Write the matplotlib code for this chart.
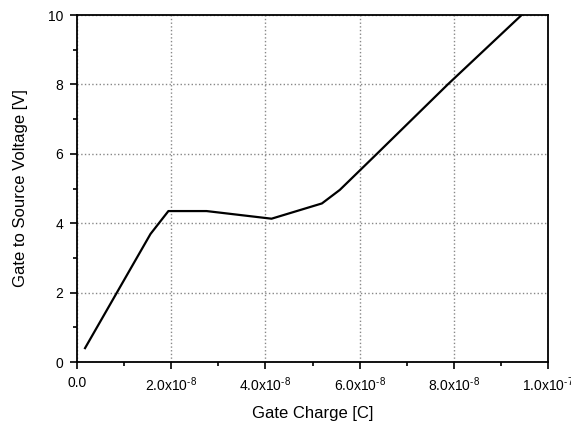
import matplotlib
matplotlib.use("Agg")
import matplotlib.pyplot as plt
from matplotlib.ticker import MultipleLocator, FuncFormatter

plt.rcParams['font.family'] = ['Liberation Sans', 'DejaVu Sans']
plt.rcParams['mathtext.fontset'] = 'custom'
plt.rcParams['mathtext.rm'] = 'Liberation Sans'
plt.rcParams['axes.unicode_minus'] = False

# gate charge curve
charge = [1.7e-9, 1.56e-8, 1.94e-8, 2.75e-8, 4.13e-8, 5.2e-8, 5.58e-8, 6.36e-8, 7.88e-8, 9.44e-8]
voltage = [0.40, 3.69, 4.35, 4.35, 4.13, 4.57, 4.96, 5.99, 8.01, 10.0]

fig = plt.figure(figsize=(5.71, 4.23), dpi=100)
ax = fig.add_axes([0.1349, 0.1442, 0.8248, 0.8203])

ax.plot(charge, voltage, color='black', lw=1.6)

ax.set_xlim(0, 1e-7)
ax.set_ylim(0, 10)


def sci(v, pos):
    if v == 0:
        return '0.0'
    exp = int(f'{v:e}'.split('e')[1])
    mant = v / 10 ** exp
    # \text keeps the plain hyphen in the exponent
    return '%.1fx10$^{\\text{%d}}$' % (mant, exp)


ax.xaxis.set_major_locator(MultipleLocator(2e-8))
ax.xaxis.set_minor_locator(MultipleLocator(1e-8))
ax.xaxis.set_major_formatter(FuncFormatter(sci))
ax.yaxis.set_major_locator(MultipleLocator(2))
ax.yaxis.set_minor_locator(MultipleLocator(1))

ax.tick_params(which='both', direction='out', labelsize=10, width=1.2, pad=5)
ax.tick_params(which='major', length=5)
ax.tick_params(which='minor', length=3)
for s in ax.spines.values():
    s.set_linewidth(1.3)

ax.grid(True, which='major', color='#888888', linestyle=':', linewidth=1.0)

ax.set_xlabel('Gate Charge [C]', fontsize=12, labelpad=8)
ax.set_ylabel('Gate to Source Voltage [V]', fontsize=12, labelpad=14)

fig.savefig('out.png', dpi=100)
plt.close()
